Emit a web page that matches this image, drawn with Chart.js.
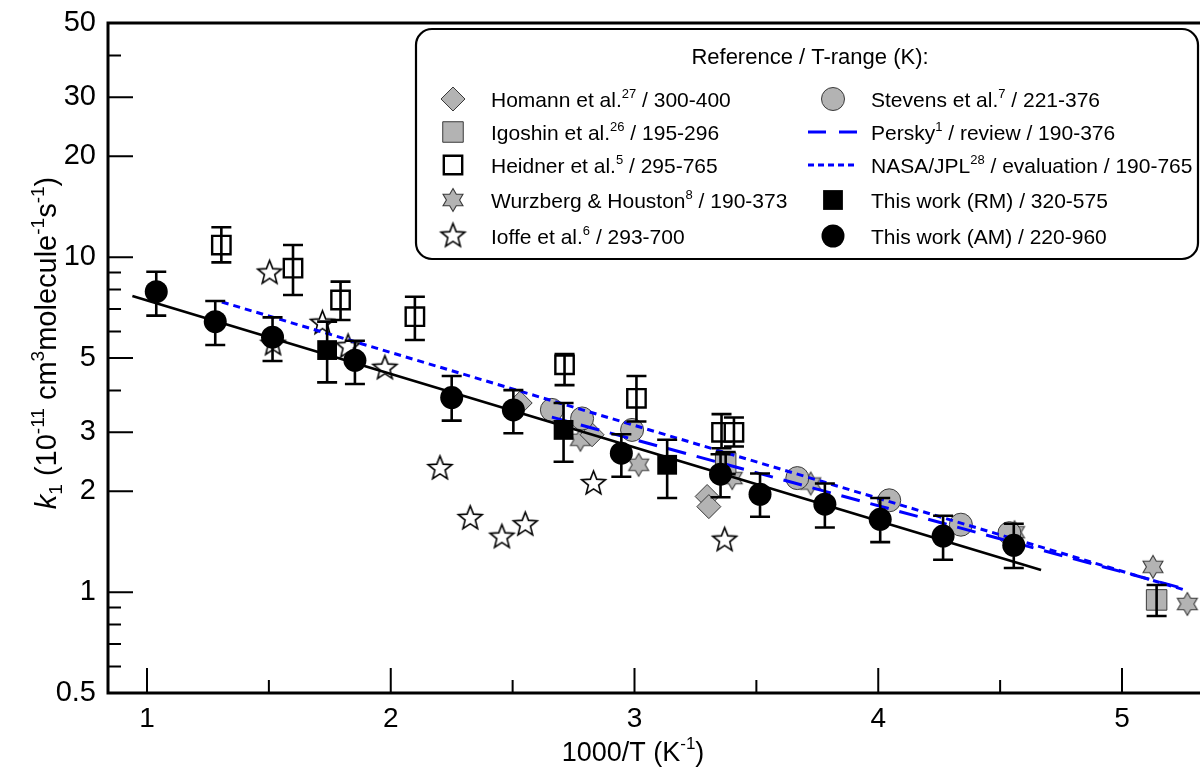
<!DOCTYPE html>
<html><head><meta charset="utf-8">
<script src="https://cdn.jsdelivr.net/npm/chart.js@4.4.1/dist/chart.umd.min.js"></script>
<style>html,body{margin:0;padding:0;background:#fff;overflow:hidden;}#wrap{width:1200px;height:776px;position:relative;}</style>
</head><body><div id="wrap"><canvas id="c"></canvas></div>
<script>
// ---------- data (x = 1000/T in K^-1, k in 1e-11 cm3 molecule-1 s-1) ----------
const amX  = [1.038, 1.280, 1.515, 1.853, 2.250, 2.503, 2.946, 3.353, 3.515, 3.781, 4.008, 4.266, 4.556];
const amK  = [7.89, 6.42, 5.77, 4.92, 3.81, 3.50, 2.60, 2.25, 1.96, 1.83, 1.65, 1.47, 1.38];
const amHi = [9.05, 7.40, 6.61, 5.63, 4.42, 4.01, 2.96, 2.58, 2.26, 2.11, 1.91, 1.69, 1.60];
const amLo = [6.69, 5.47, 4.90, 4.18, 3.25, 2.98, 2.21, 1.92, 1.68, 1.56, 1.41, 1.25, 1.18];

const rmX  = [1.739, 2.709, 3.134];
const rmK  = [5.28, 3.05, 2.40];
const rmHi = [6.42, 3.67, 2.85];
const rmLo = [4.23, 2.45, 1.91];

const heidnerX  = [1.305, 1.599, 1.794, 2.099, 2.713, 3.008, 3.357, 3.408];
const heidnerK  = [10.87, 9.27, 7.45, 6.64, 4.77, 3.79, 3.00, 3.00];
const heidnerHi = [12.28, 10.87, 8.45, 7.62, 5.14, 4.42, 3.40, 3.32];
const heidnerLo = [9.65, 7.71, 6.49, 5.66, 4.15, 3.23, 2.69, 2.72];

const igoshinX  = [3.374, 5.142];
const igoshinK  = [2.43, 0.948];
const igoshinHi = [2.62, 1.05];
const igoshinLo = [2.25, 0.849];

const homannX = [2.531, 2.826, 3.298, 3.305];
const homannK = [3.67, 2.95, 1.93, 1.80];

const wurzX = [2.778, 3.017, 3.401, 3.723, 4.559, 5.127, 5.268];
const wurzK = [2.85, 2.40, 2.19, 2.11, 1.51, 1.19, 0.922];

const ioffeX = [1.503, 1.517, 1.720, 1.825, 1.976, 2.202, 2.326, 2.456, 2.552, 2.832, 3.370];
const ioffeK = [8.97, 5.50, 6.35, 5.40, 4.66, 2.34, 1.66, 1.46, 1.59, 2.11, 1.43];

const stevensX = [2.661, 2.785, 2.990, 3.668, 4.045, 4.339, 4.538];
const stevensK = [3.50, 3.30, 3.05, 2.19, 1.88, 1.59, 1.50];

const fitX = [0.94, 4.668];
const fitK = [7.66, 1.164];
const perskyX = [2.661, 5.263];
const perskyK = [3.33, 1.02];
const nasaX = [1.307, 5.263];
const nasaK = [7.35, 1.012];

const xTicks = [1, 2, 3, 4, 5];
const xMinorTicks = [1.5, 2.5, 3.5, 4.5];
const yTicks = [0.5, 1, 2, 3, 5, 10, 20, 30, 50];
const yMinorTicks = [0.6, 0.7, 0.8, 0.9, 4, 6, 7, 8, 9, 40];

const legendTitle = 'Reference / T-range (K):';
const legendLeft = [
  [{t:'Homann et al.'},{t:'27',sup:1},{t:' / 300-400'}],
  [{t:'Igoshin et al.'},{t:'26',sup:1},{t:' / 195-296'}],
  [{t:'Heidner et al.'},{t:'5',sup:1},{t:' / 295-765'}],
  [{t:'Wurzberg & Houston'},{t:'8',sup:1},{t:' / 190-373'}],
  [{t:'Ioffe et al.'},{t:'6',sup:1},{t:' / 293-700'}]
];
const legendRight = [
  [{t:'Stevens et al.'},{t:'7',sup:1},{t:' / 221-376'}],
  [{t:'Persky'},{t:'1',sup:1},{t:' / review / 190-376'}],
  [{t:'NASA/JPL'},{t:'28',sup:1},{t:' / evaluation / 190-765'}],
  [{t:'This work (RM) / 320-575'}],
  [{t:'This work (AM) / 220-960'}]
];
const yTitle = [{t:'k',it:1},{t:'1',sub:1},{t:' (10'},{t:'-11',sup:1},{t:' cm'},{t:'3',sup:1},{t:'molecule'},{t:'-1',sup:1},{t:'s'},{t:'-1',sup:1},{t:')'}];
const xTitle = [{t:'1000/T (K'},{t:'-1',sup:1},{t:')'}];

// ---------- styles ----------
const FONT = "'Liberation Sans', Arial, Helvetica, sans-serif";
const GRAY = '#b3b3b3';
const GRAYEDGE = '#3a3a3a';
const BLUE = '#0000ff';

function makeStar(n, outerR, innerR, fill, stroke, lw) {
  const size = Math.ceil(outerR * 2 + lw * 2 + 2);
  const cv = document.createElement('canvas');
  cv.width = size; cv.height = size;
  const c = cv.getContext('2d');
  const cx = size / 2, cy = size / 2;
  c.beginPath();
  for (let i = 0; i < 2 * n; i++) {
    const r = i % 2 === 0 ? outerR : innerR;
    const a = -Math.PI / 2 + i * Math.PI / n;
    const px = cx + r * Math.cos(a), py = cy + r * Math.sin(a);
    if (i === 0) c.moveTo(px, py); else c.lineTo(px, py);
  }
  c.closePath();
  c.fillStyle = fill; c.fill();
  c.lineWidth = lw; c.strokeStyle = stroke; c.lineJoin = 'miter'; c.stroke();
  return cv;
}
const openStar = makeStar(5, 12.5, 5.4, '#ffffff', '#000000', 1.6);
const hexStar = makeStar(6, 11.5, 6.6, GRAY, GRAYEDGE, 1.1);

const pts = (xs, ys) => xs.map((x, i) => ({x: x, y: ys[i]}));

const datasets = [
  {label:'This work (AM)', data:pts(amX, amK), errHi:amHi, errLo:amLo, pointStyle:'circle', pointRadius:11.5, backgroundColor:'#000', borderColor:'#000', borderWidth:0},
  {label:'This work (RM)', data:pts(rmX, rmK), errHi:rmHi, errLo:rmLo, pointStyle:'rect', pointRadius:14, backgroundColor:'#000', borderColor:'#000', borderWidth:0},
  {label:'fit', data:pts(fitX, fitK), showLine:true, pointRadius:0, borderColor:'#000', borderWidth:2.6, fill:false},
  {label:'Persky', data:pts(perskyX, perskyK), showLine:true, pointRadius:0, borderColor:BLUE, borderWidth:3, borderDash:[19,11], fill:false},
  {label:'NASA/JPL', data:pts(nasaX, nasaK), showLine:true, pointRadius:0, borderColor:BLUE, borderWidth:3, borderDash:[7,5], fill:false},
  {label:'Heidner', data:pts(heidnerX, heidnerK), errHi:heidnerHi, errLo:heidnerLo, pointStyle:'rect', pointRadius:13, backgroundColor:'#fff', borderColor:'#000', borderWidth:2.4},
  {label:'Stevens', data:pts(stevensX, stevensK), pointStyle:'circle', pointRadius:11.5, backgroundColor:GRAY, borderColor:GRAYEDGE, borderWidth:1},
  {label:'Homann', data:pts(homannX, homannK), pointStyle:'rectRot', pointRadius:12, backgroundColor:GRAY, borderColor:GRAYEDGE, borderWidth:1},
  {label:'Igoshin', data:pts(igoshinX, igoshinK), errHi:igoshinHi, errLo:igoshinLo, pointStyle:'rect', pointRadius:14.5, backgroundColor:GRAY, borderColor:GRAYEDGE, borderWidth:1},
  {label:'Wurzberg', data:pts(wurzX, wurzK), pointStyle:hexStar, pointRadius:11},
  {label:'Ioffe', data:pts(ioffeX, ioffeK), pointStyle:openStar, pointRadius:11}
];
datasets.forEach(d => { d.pointHoverRadius = d.pointRadius; });

function drawRich(ctx, parts, x, y, size, align) {
  const fontFor = p => (p.it ? 'italic ' : '') + ((p.sup || p.sub) ? Math.round(size * 0.64) : size) + 'px ' + FONT;
  let w = 0;
  for (const p of parts) { ctx.font = fontFor(p); w += ctx.measureText(p.t).width; }
  let cx = align === 'center' ? x - w / 2 : x;
  const base = y + size * 0.36;
  ctx.textBaseline = 'alphabetic';
  ctx.textAlign = 'left';
  for (const p of parts) {
    ctx.font = fontFor(p);
    const dy = p.sup ? -size * 0.42 : (p.sub ? size * 0.2 : 0);
    ctx.fillText(p.t, cx, base + dy);
    cx += ctx.measureText(p.t).width;
  }
}

const decor = {
  id: 'decor',
  afterDatasetsDraw(chart) {
    const ctx = chart.ctx, xs = chart.scales.x, ys = chart.scales.y;
    ctx.save();
    chart.data.datasets.forEach((ds) => {
      if (!ds.errHi) return;
      ctx.strokeStyle = '#000'; ctx.lineWidth = 2.6; ctx.lineCap = 'butt';
      ds.data.forEach((p, i) => {
        const px = xs.getPixelForValue(p.x);
        const yh = ys.getPixelForValue(ds.errHi[i]);
        const yl = ys.getPixelForValue(ds.errLo[i]);
        ctx.beginPath();
        ctx.moveTo(px, yh); ctx.lineTo(px, yl);
        ctx.moveTo(px - 10, yh); ctx.lineTo(px + 10, yh);
        ctx.moveTo(px - 10, yl); ctx.lineTo(px + 10, yl);
        ctx.stroke();
      });
    });
    ctx.restore();
  },
  afterDraw(chart) {
    const ctx = chart.ctx, xs = chart.scales.x, ys = chart.scales.y, a = chart.chartArea;
    ctx.save();
    ctx.strokeStyle = '#000'; ctx.lineWidth = 3; ctx.lineCap = 'square';
    ctx.beginPath();
    ctx.moveTo(a.right + 5, a.top); ctx.lineTo(a.left, a.top); ctx.lineTo(a.left, a.bottom); ctx.lineTo(a.right + 5, a.bottom);
    ctx.stroke();
    ctx.lineWidth = 2; ctx.lineCap = 'butt';
    ctx.beginPath();
    xTicks.forEach(v => { const p = xs.getPixelForValue(v); ctx.moveTo(p, a.bottom); ctx.lineTo(p, a.bottom - 25); });
    xMinorTicks.forEach(v => { const p = xs.getPixelForValue(v); ctx.moveTo(p, a.bottom); ctx.lineTo(p, a.bottom - 13); });
    yTicks.forEach(v => { const p = ys.getPixelForValue(v); ctx.moveTo(a.left, p); ctx.lineTo(a.left + 25, p); });
    yMinorTicks.forEach(v => { const p = ys.getPixelForValue(v); ctx.moveTo(a.left, p); ctx.lineTo(a.left + 13, p); });
    ctx.stroke();
    ctx.fillStyle = '#000';
    drawRich(ctx, xTitle, 633, 751, 27, 'center');
    ctx.save();
    ctx.translate(46, 343); ctx.rotate(-Math.PI / 2);
    drawRich(ctx, yTitle, 0, 0, 29, 'center');
    ctx.restore();
    const bx = 416, by = 29, bw = 782, bh = 230, r = 16;
    ctx.beginPath();
    ctx.moveTo(bx + r, by); ctx.lineTo(bx + bw - r, by); ctx.arcTo(bx + bw, by, bx + bw, by + r, r);
    ctx.lineTo(bx + bw, by + bh - r); ctx.arcTo(bx + bw, by + bh, bx + bw - r, by + bh, r);
    ctx.lineTo(bx + r, by + bh); ctx.arcTo(bx, by + bh, bx, by + bh - r, r);
    ctx.lineTo(bx, by + r); ctx.arcTo(bx, by, bx + r, by, r); ctx.closePath();
    ctx.fillStyle = '#fff'; ctx.fill();
    ctx.strokeStyle = '#000'; ctx.lineWidth = 2.2; ctx.stroke();
    ctx.fillStyle = '#000';
    drawRich(ctx, [{t: legendTitle}], 810, 56, 22, 'center');
    const rows = [99, 132, 165, 200, 236];
    const leftSets = [7, 8, 5, 9, 10];
    const rightSets = [6, 3, 4, 1, 0];
    const drawMarker = (ds, x, y) => {
      ctx.save();
      ctx.fillStyle = ds.backgroundColor || '#000';
      ctx.strokeStyle = ds.borderColor || '#000';
      ctx.lineWidth = ds.borderWidth || 0;
      Chart.helpers.drawPoint(ctx, {pointStyle: ds.pointStyle, radius: ds.pointRadius, rotation: 0, borderWidth: ds.borderWidth || 0}, x, y);
      ctx.restore();
    };
    leftSets.forEach((di, i) => {
      drawMarker(chart.data.datasets[di], 453, rows[i]);
      ctx.fillStyle = '#000';
      drawRich(ctx, legendLeft[i], 491, rows[i], 21, 'left');
    });
    rightSets.forEach((di, i) => {
      const ds = chart.data.datasets[di];
      if (ds.showLine) {
        ctx.save();
        ctx.strokeStyle = ds.borderColor; ctx.lineWidth = ds.borderWidth;
        ctx.setLineDash(di === 3 ? [18, 13] : [6, 4]);
        ctx.beginPath(); ctx.moveTo(808, rows[i]); ctx.lineTo(858, rows[i]); ctx.stroke();
        ctx.restore();
      } else {
        drawMarker(ds, 833, rows[i]);
      }
      ctx.fillStyle = '#000';
      drawRich(ctx, legendRight[i], 871, rows[i], 21, 'left');
    });
    ctx.restore();
  }
};

new Chart(document.getElementById('c'), {
  type: 'scatter',
  data: {datasets: datasets},
  options: {
    responsive: true,
    maintainAspectRatio: false,
    animation: false,
    devicePixelRatio: 1,
    layout: {autoPadding: false, padding: {left: 0, right: 0, top: 23, bottom: 0}},
    plugins: {legend: {display: false}, tooltip: {enabled: false}},
    events: [],
    scales: {
      x: {
        type: 'linear', position: 'bottom', min: 0.84, max: 5.32,
        afterFit(s) { s.height = 83; s.paddingLeft = 0; s.paddingRight = 0; },
        afterBuildTicks(s) { s.ticks = xTicks.map(v => ({value: v})); },
        ticks: {color: '#000', font: {family: FONT, size: 28}, padding: 9, maxRotation: 0, autoSkip: false, callback: v => String(v)},
        grid: {display: false, drawTicks: false},
        border: {display: false}
      },
      y: {
        type: 'logarithmic', position: 'left', min: 0.5, max: 50,
        afterFit(s) { s.width = 108; s.paddingTop = 0; s.paddingBottom = 0; },
        afterBuildTicks(s) { s.ticks = yTicks.map(v => ({value: v})); },
        ticks: {color: '#000', font: {family: FONT, size: 29}, padding: 12, autoSkip: false, callback: v => String(v)},
        grid: {display: false, drawTicks: false},
        border: {display: false}
      }
    }
  },
  plugins: [decor]
});
</script>
</body></html>
